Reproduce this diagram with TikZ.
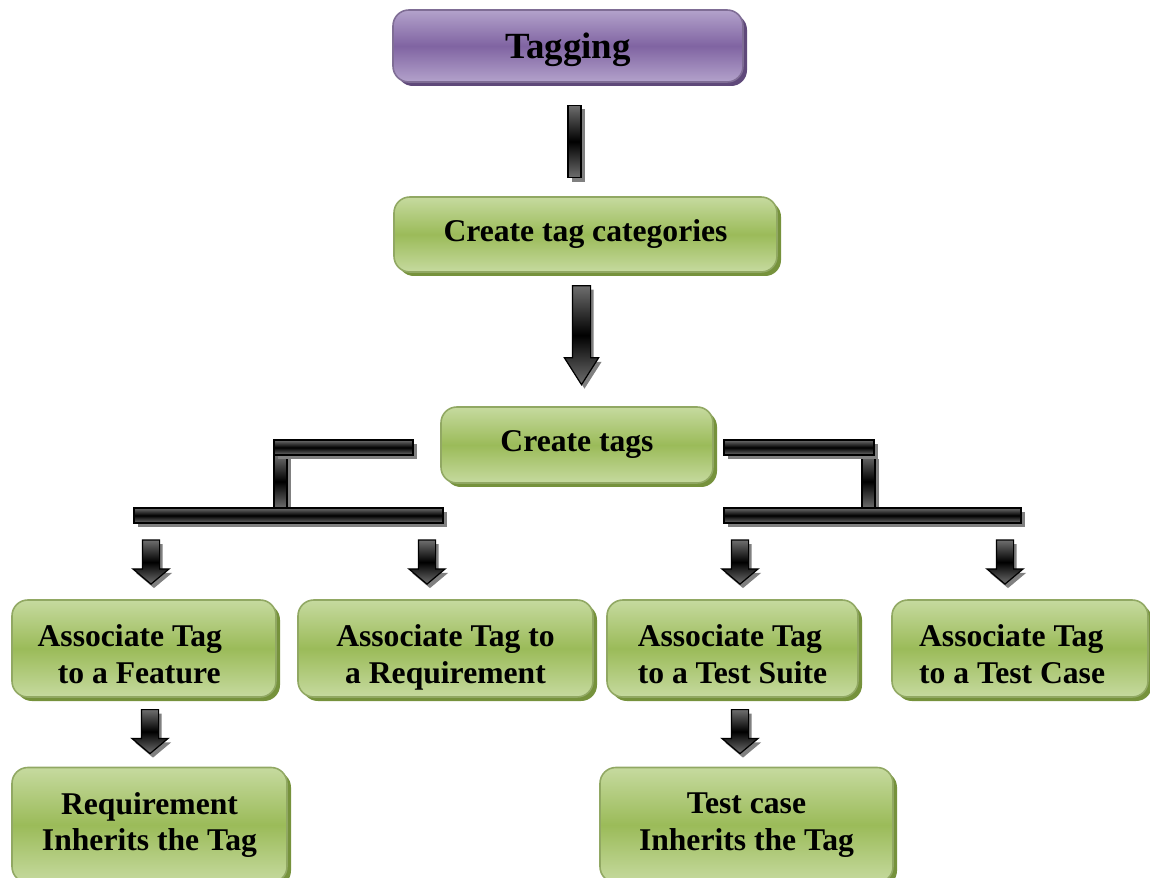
\documentclass[tikz,border=0pt]{standalone}
\usepackage{fontspec}
\setmainfont{Liberation Serif}
\usetikzlibrary{positioning, shapes.arrows, shadows, calc}
\definecolor{tgpurple}{HTML}{8064A2}
\definecolor{tgpurplelt}{HTML}{B3A2CB}
\definecolor{tgpurpledk}{HTML}{5F497A}
\definecolor{tggreen}{HTML}{9BBB59}
\definecolor{tggreenlt}{HTML}{C6DA9F}
\definecolor{tggreendk}{HTML}{76923C}
\definecolor{tgbar}{HTML}{6E6E6E}

\begin{document}
\begin{tikzpicture}[
  box/.style={
    rectangle, rounded corners=9pt, draw=#1dk!80, line width=0.9pt,
    top color=#1lt, bottom color=#1lt, middle color=#1,
    drop shadow={shadow xshift=0.08cm, shadow yshift=-0.08cm,
      fill=#1dk, opacity=1},
    font=\fontsize{18}{21}\selectfont\bfseries, inner sep=2pt
  },
  assoc/.style={
    box=tggreen, minimum height=1.94cm, text height=40pt, text depth=0pt
  },
  bar/.style={
    rectangle, draw=black, line width=0.8pt, inner sep=0pt,
    top color=tgbar, bottom color=tgbar, middle color=black,
    drop shadow={shadow xshift=0.07cm, shadow yshift=-0.08cm,
      fill=gray, opacity=1}
  },
  fatarrow/.style={
    single arrow, shape border rotate=270, draw=black, line width=0.7pt,
    inner ysep=0pt, top color=tgbar, bottom color=tgbar, middle color=black,
    drop shadow={shadow xshift=0.06cm, shadow yshift=-0.08cm,
      fill=gray, opacity=1}
  },
  smallarrow/.style={
    fatarrow, inner xsep=0.16cm, single arrow head extend=0.19cm,
    minimum height=0.88cm, single arrow tip angle=100
  },
]
\useasboundingbox (0,0) rectangle (23,-17.56);

% top of the tree
\node[box=tgpurple, minimum width=7cm, minimum height=1.44cm, text depth=0pt,
  font=\fontsize{21}{24}\selectfont\bfseries] (tag) at (11.36,-0.92) {Tagging};
\node[box=tggreen, minimum width=7.66cm, minimum height=1.5cm] (cat) at (11.71,-4.69) {Create tag categories};
\node[box=tggreen, minimum width=5.44cm, minimum height=1.52cm] (tags) at (11.54,-8.9) {Create tags};

% links down to create tags
\node[bar, minimum width=0.26cm, minimum height=1.45cm] (link) at (11.49,-2.83) {};
\node[fatarrow, inner xsep=0.17cm, single arrow head extend=0.16cm,
  minimum height=1.98cm, single arrow tip angle=65] (down) at (11.63,-6.56) {};

% left bracket
\node[bar, minimum width=0.26cm, minimum height=1.06cm] (lvert) at (5.61,-9.63) {};
\node[bar, minimum width=6.18cm, minimum height=0.3cm] (llow) at (5.77,-10.31) {};
\node[bar, minimum width=2.78cm, minimum height=0.3cm] (ltop) at (6.87,-8.95) {};

% right bracket
\node[bar, minimum width=0.26cm, minimum height=1.06cm] (rvert) at (17.37,-9.63) {};
\node[bar, minimum width=5.94cm, minimum height=0.3cm] (rlow) at (17.45,-10.31) {};
\node[bar, minimum width=3cm, minimum height=0.3cm] (rtop) at (15.98,-8.95) {};

% arrows to the associate boxes
\node[smallarrow] (arr1) at (3.02,-11.17) {};
\node[smallarrow] (arr2) at (8.54,-11.17) {};
\node[smallarrow] (arr3) at (14.8,-11.17) {};
\node[smallarrow] (arr4) at (20.1,-11.17) {};

% associate boxes
\node[assoc, minimum width=5.28cm, align=center] (feat) at (2.88,-12.97) {Associate Tag\hspace*{0.9em}\\ to a Feature\hspace*{0.3em}};
\node[assoc, minimum width=5.9cm, align=center] (req) at (8.91,-12.97) {Associate Tag to\\ a Requirement};
\node[assoc, minimum width=5.02cm, align=left] (suite) at (14.65,-12.97) {Associate Tag\\ to a Test Suite};
\node[assoc, minimum width=5.12cm, align=left] (case) at (20.4,-12.97) {Associate Tag\\ to a Test Case\hspace*{0.5em}};

% inherit arrows and boxes
\node[smallarrow] (arr5) at (3,-14.56) {};
\node[smallarrow] (arr6) at (14.8,-14.56) {};
\node[box=tggreen, minimum width=5.5cm, minimum height=2.3cm, align=center] (rinh) at (2.99,-16.5) {Requirement\\ Inherits the Tag};
\node[box=tggreen, minimum width=5.86cm, minimum height=2.3cm, align=center] (cinh) at (14.93,-16.5) {Test case\\ Inherits the Tag};

\end{tikzpicture}
\end{document}
